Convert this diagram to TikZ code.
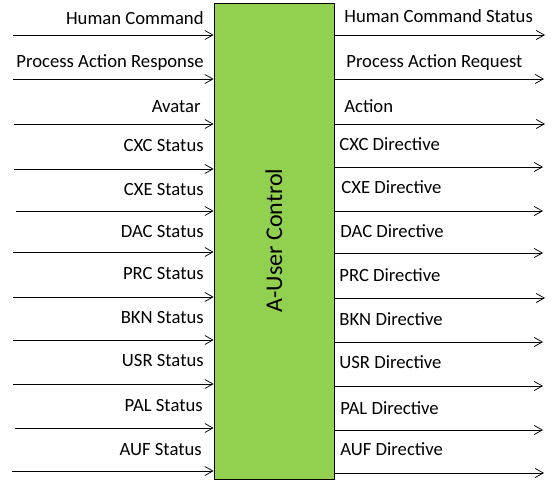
\documentclass[tikz,border=0pt]{standalone}
\usepackage{fontspec}
\setmainfont{Carlito}
\usepackage{xcolor}
\usetikzlibrary{arrows.meta}
\definecolor{ctrlgreen}{HTML}{92D050}

\begin{document}
\begin{tikzpicture}[x=1pt,y=-1pt,>={Straight Barb[length=8pt,width=9pt]},line width=0.75pt,
                    font=\fontsize{18.67}{22}\selectfont]
  \tikzstyle{block}=[draw=black,fill=ctrlgreen,minimum width=120pt,minimum height=476pt,inner sep=0pt]
  \tikzstyle{inlabel}=[anchor=base east,inner sep=0pt]
  \tikzstyle{outlabel}=[anchor=base west,inner sep=0pt]
  \tikzstyle{flow}=[->]

  \useasboundingbox (0,0) rectangle (555,481);

  \node[block] (box) at (274,241) {};
  \node[rotate=90,font=\fontsize{24}{28}\selectfont] (title) at (274,240.5) {A-User Control};

  % inputs
  \node[inlabel] (hc)   at (204,25)  {Human Command};
  \node[inlabel] (par)  at (204,68)  {Process Action Response};
  \node[inlabel] (av)   at (201,113) {Avatar};
  \node[inlabel] (cxc)  at (204,152) {CXC Status};
  \node[inlabel] (cxe)  at (204,196) {CXE Status};
  \node[inlabel] (dac)  at (204,238) {DAC Status};
  \node[inlabel] (prc)  at (204,280) {PRC Status};
  \node[inlabel] (bkn)  at (204,324) {BKN Status};
  \node[inlabel] (usr)  at (204,367) {USR Status};
  \node[inlabel] (pal)  at (203,412) {PAL Status};
  \node[inlabel] (auf)  at (202,455) {AUF Status};

  \coordinate (hcIn)  at (13,35);
  \coordinate (parIn) at (13,79);
  \coordinate (avIn)  at (14,124);
  \coordinate (cxcIn) at (14,169);
  \coordinate (cxeIn) at (16,211);
  \coordinate (dacIn) at (13,252);
  \coordinate (prcIn) at (13,297);
  \coordinate (bknIn) at (13,340);
  \coordinate (usrIn) at (13,384);
  \coordinate (palIn) at (15,428);
  \coordinate (aufIn) at (12,471);

  \draw[flow] (hcIn)  -- (hcIn -| box.west);
  \draw[flow] (parIn) -- (parIn -| box.west);
  \draw[flow] (avIn)  -- (avIn -| box.west);
  \draw[flow] (cxcIn) -- (cxcIn -| box.west);
  \draw[flow] (cxeIn) -- (cxeIn -| box.west);
  \draw[flow] (dacIn) -- (dacIn -| box.west);
  \draw[flow] (prcIn) -- (prcIn -| box.west);
  \draw[flow] (bknIn) -- (bknIn -| box.west);
  \draw[flow] (usrIn) -- (usrIn -| box.west);
  \draw[flow] (palIn) -- (palIn -| box.west);
  \draw[flow] (aufIn) -- (aufIn -| box.west);

  % outputs
  \node[outlabel] (hcs)  at (344,23)  {Human Command Status};
  \node[outlabel] (preq) at (346,68)  {Process Action Request};
  \node[outlabel] (act)  at (344,113) {Action};
  \node[outlabel] (cxcd) at (339,151) {CXC Directive};
  \node[outlabel] (cxed) at (341,194) {CXE Directive};
  \node[outlabel] (dacd) at (340,238) {DAC Directive};
  \node[outlabel] (prcd) at (339,282) {PRC Directive};
  \node[outlabel] (bknd) at (339,326) {BKN Directive};
  \node[outlabel] (usrd) at (339,369) {USR Directive};
  \node[outlabel] (pald) at (340,414) {PAL Directive};
  \node[outlabel] (aufd) at (340,456) {AUF Directive};

  \coordinate (hcsOut)  at (545,35);
  \coordinate (preqOut) at (544,79);
  \coordinate (actOut)  at (545,124);
  \coordinate (cxcdOut) at (543,167);
  \coordinate (cxedOut) at (543,211);
  \coordinate (dacdOut) at (543,253);
  \coordinate (prcdOut) at (545,298);
  \coordinate (bkndOut) at (543,342);
  \coordinate (usrdOut) at (543,386);
  \coordinate (paldOut) at (543,430);
  \coordinate (aufdOut) at (544,473);

  \draw[flow] (hcsOut -| box.east)  -- (hcsOut);
  \draw[flow] (preqOut -| box.east) -- (preqOut);
  \draw[flow] (actOut -| box.east)  -- (actOut);
  \draw[flow] (cxcdOut -| box.east) -- (cxcdOut);
  \draw[flow] (cxedOut -| box.east) -- (cxedOut);
  \draw[flow] (dacdOut -| box.east) -- (dacdOut);
  \draw[flow] (prcdOut -| box.east) -- (prcdOut);
  \draw[flow] (bkndOut -| box.east) -- (bkndOut);
  \draw[flow] (usrdOut -| box.east) -- (usrdOut);
  \draw[flow] (paldOut -| box.east) -- (paldOut);
  \draw[flow] (aufdOut -| box.east) -- (aufdOut);
\end{tikzpicture}
\end{document}
